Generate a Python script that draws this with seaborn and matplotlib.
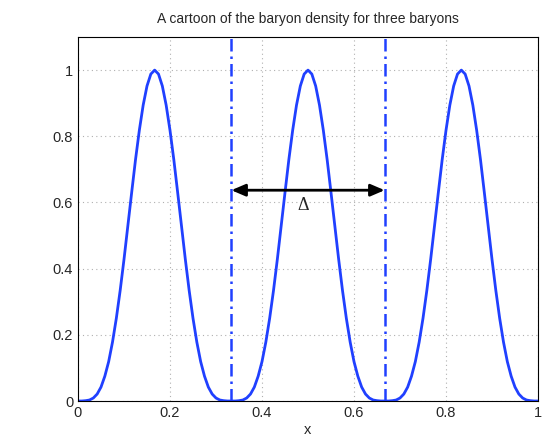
import numpy as np
import pandas as pd
import matplotlib
matplotlib.use("Agg")
import matplotlib.pyplot as plt
import seaborn as sns

# ---------------------------------------------------------
# Data (x in steps of 1/120)
# ---------------------------------------------------------
x_step = 1.0 / 120
density = [
    0.000, 0.000, 0.001, 0.003, 0.009, 0.021, 0.042, 0.075, 0.119, 0.178,
    0.250, 0.334, 0.428, 0.529, 0.630, 0.729, 0.818, 0.894, 0.952, 0.988,
    1.000, 0.988, 0.952, 0.894, 0.818, 0.729, 0.630, 0.529, 0.428, 0.334,
    0.250, 0.178, 0.119, 0.075, 0.042, 0.021, 0.009, 0.003, 0.001, 0.000,
    0.000, 0.000, 0.001, 0.003, 0.009, 0.021, 0.042, 0.075, 0.119, 0.178,
    0.250, 0.334, 0.428, 0.529, 0.630, 0.729, 0.818, 0.894, 0.952, 0.988,
    1.000, 0.988, 0.952, 0.894, 0.818, 0.729, 0.630, 0.529, 0.428, 0.334,
    0.250, 0.178, 0.119, 0.075, 0.042, 0.021, 0.009, 0.003, 0.001, 0.000,
    0.000, 0.000, 0.001, 0.003, 0.009, 0.021, 0.042, 0.075, 0.119, 0.178,
    0.250, 0.334, 0.428, 0.529, 0.630, 0.729, 0.818, 0.894, 0.952, 0.988,
    1.000, 0.988, 0.952, 0.894, 0.818, 0.729, 0.630, 0.529, 0.428, 0.334,
    0.250, 0.178, 0.119, 0.075, 0.042, 0.021, 0.009, 0.003, 0.001, 0.000,
    0.000,
]
boundaries = [1 / 3, 2 / 3]
arrow_y = 0.637
delta_label = "\u0394"
delta_pos = (0.49, 0.59)
ticks = [0, 0.2, 0.4, 0.6, 0.8, 1]
tick_labels = ["0", "0.2", "0.4", "0.6", "0.8", "1"]

blue = "#2040ff"

sns.set_style("white")
plt.rcParams["font.family"] = ["Liberation Sans", "DejaVu Sans"]

df = pd.DataFrame({"x": np.arange(len(density)) * x_step, "rho": density})

fig = plt.figure(figsize=(5.45, 4.4), dpi=100)
ax = fig.add_axes([78 / 545, 1 - 401 / 440, 460 / 545, 364 / 440])

sns.lineplot(data=df, x="x", y="rho", color=blue, linewidth=2, ax=ax)

for b in boundaries:
    ax.plot([b, b], [0, 1.1], color=blue, linestyle=(0, (5, 2, 1, 2)),
            linewidth=1.8)

ax.annotate("", xy=(boundaries[1], arrow_y), xytext=(boundaries[0], arrow_y),
            arrowprops=dict(arrowstyle="<|-|>,head_length=0.7,head_width=0.3",
                            color="black", lw=2,
                            mutation_scale=12, shrinkA=0, shrinkB=0))
ax.text(delta_pos[0], delta_pos[1], delta_label, ha="center", va="center",
        fontsize=13, family=["Liberation Serif", "DejaVu Serif"])

ax.set_xlim(0, 1)
ax.set_ylim(0, 1.1)
ax.set_xticks(ticks)
ax.set_xticklabels(tick_labels)
ax.set_yticks(ticks)
ax.set_yticklabels(tick_labels)
ax.tick_params(direction="in", length=4, labelsize=10.5, color="#444444")
ax.grid(True, linestyle=(0, (1, 3)), color="#b0b0b0", linewidth=0.8)
for s in ax.spines.values():
    s.set_color("black")
    s.set_linewidth(0.8)

ax.set_title("A cartoon of the baryon density for three baryons",
             fontsize=10, pad=10)
ax.set_xlabel("x", fontsize=10.5, labelpad=2)
ax.set_ylabel("")

fig.savefig("out.png", dpi=100)
